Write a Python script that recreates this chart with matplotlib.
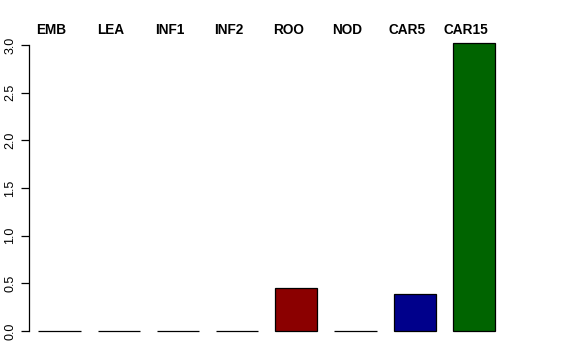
import matplotlib
matplotlib.use("Agg")
import matplotlib.pyplot as plt
from matplotlib.transforms import blended_transform_factory, offset_copy

categories = ["EMB", "LEA", "INF1", "INF2", "ROO", "NOD", "CAR5", "CAR15"]
values = [0.0, 0.0, 0.0, 0.0, 0.448, 0.0, 0.388, 3.025]
colors = ["white", "white", "white", "white", "#8B0000", "white", "#00008B", "#006400"]
yticks = [0.0, 0.5, 1.0, 1.5, 2.0, 2.5, 3.0]
ytick_labels = ["0.0", "0.5", "1.0", "1.5", "2.0", "2.5", "3.0"]

W, H = 576, 360
dpi = 100
fig = plt.figure(figsize=(W / dpi, H / dpi), dpi=dpi)

# pixel geometry
px_unit_x = 59.2
x0_px = 59.5   # center of first bar
left_px, right_px = 29.0, 570.0
y0_px = 331.0  # value 0
px_unit_y = 95.3
bottom_px, top_px = 345.0, 20.0

ax = fig.add_axes([left_px / W, 1 - bottom_px / H, (right_px - left_px) / W, (bottom_px - top_px) / H])
ax.set_xlim((left_px - x0_px) / px_unit_x, (right_px - x0_px) / px_unit_x)
ax.set_ylim(-(bottom_px - y0_px) / px_unit_y, (y0_px - top_px) / px_unit_y)

xs = list(range(len(categories)))
ax.bar(xs, values, width=1 / 1.4, color=colors, edgecolor="black", linewidth=0.9)

for s in ["top", "right", "bottom"]:
    ax.spines[s].set_visible(False)
ax.spines["left"].set_bounds(0, 3)
ax.spines["left"].set_linewidth(0.9)
ax.set_xticks([])
ax.set_yticks(yticks)
ax.set_yticklabels(ytick_labels, rotation=90, va="center", fontsize=9.0)
ax.tick_params(axis="y", length=5.5, width=0.9, pad=3.5)

trans = blended_transform_factory(ax.transData, fig.transFigure)
trans = offset_copy(trans, fig=fig, x=-8, y=0, units="dots")
for x, c in zip(xs, categories):
    ax.text(x, 1 - 30 / H, c, transform=trans, ha="center", va="center",
            fontsize=9.8, fontweight="bold", family="Liberation Sans", clip_on=False)
for lab in ax.get_yticklabels():
    lab.set_family("Liberation Sans")

fig.savefig("out.png", dpi=dpi)
